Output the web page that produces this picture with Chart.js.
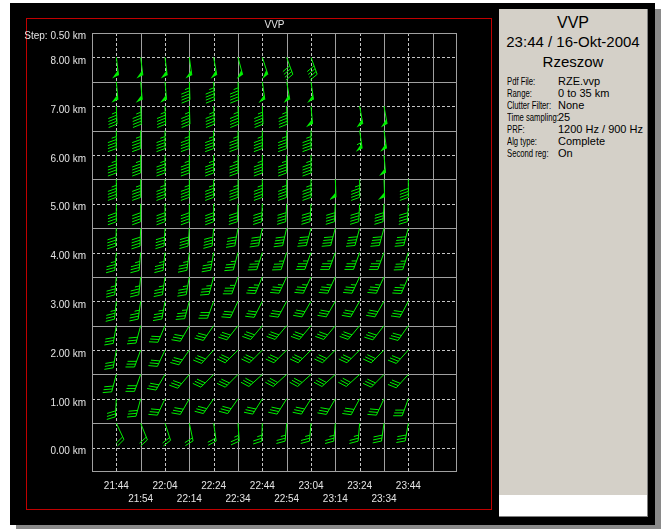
<!DOCTYPE html>
<html>
<head>
<meta charset="utf-8">
<title>VVP</title>
<script src="https://cdn.jsdelivr.net/npm/chart.js@4.4.1/dist/chart.umd.min.js"></script>
<style>
  html, body { margin: 0; padding: 0; background: #fff; }
  #wrap { position: relative; width: 661px; height: 529px; overflow: hidden;
          font-family: "Liberation Sans", Arial, sans-serif; }
  #shadow { position: absolute; left: 16px; top: 9px; width: 645px; height: 520px; background: #8a8a8a; }
  #panel  { position: absolute; left: 10px; top: 3px; width: 645px; height: 522px; background: #000; }
  #frame  { position: absolute; left: 26px; top: 18px; width: 464px; height: 490px; border: 1px solid #c00000; }
  #chart  { position: absolute; left: 0; top: 0; }
  #info   { position: absolute; left: 499px; top: 9px; width: 148px; height: 507px;
            background: #d4d0c8; border-right: 1px solid #808080; border-bottom: 1px solid #808080; }
  #infoFoot { position: absolute; left: 0; top: 486px; width: 148px; height: 21px; background: #fff; }
  .hdr { position: absolute; left: 0; width: 148px; text-align: center; color: #000; white-space: nowrap; }
  .row { position: absolute; left: 8px; width: 140px; font-size: 11px; line-height: 12px; color: #000; white-space: nowrap; }
  .row .k { display: inline-block; transform: scaleX(0.7); transform-origin: 0 50%; }
  .row .v { position: absolute; left: 51px; top: 0; }
</style>
</head>
<body>
<div id="wrap">
  <div id="shadow"></div>
  <div id="panel"></div>
  <div id="frame"></div>
  <canvas id="chart" width="661" height="529"></canvas>
  <div id="info">
    <div class="hdr" style="top:5px;font-size:16px;line-height:18px;">VVP</div>
    <div class="hdr" style="top:24px;font-size:15px;line-height:18px;">23:44 / 16-Okt-2004</div>
    <div class="hdr" style="top:44px;font-size:15px;line-height:18px;">Rzeszow</div>
    <div class="row" style="top:66px;"><span class="k">Pdf File:</span><span class="v">RZE.vvp</span></div>
    <div class="row" style="top:78px;"><span class="k">Range:</span><span class="v">0 to 35 km</span></div>
    <div class="row" style="top:90px;"><span class="k">Clutter Filter:</span><span class="v">None</span></div>
    <div class="row" style="top:102px;"><span class="k">Time sampling:</span><span class="v">25</span></div>
    <div class="row" style="top:114px;"><span class="k">PRF:</span><span class="v">1200 Hz / 900 Hz</span></div>
    <div class="row" style="top:126px;"><span class="k">Alg type:</span><span class="v">Complete</span></div>
    <div class="row" style="top:138px;"><span class="k">Second reg:</span><span class="v">On</span></div>
    <div id="infoFoot"></div>
  </div>
</div>
<script>
// Profile times (10 min apart) and levels (km, every 0.50 km, top to bottom)
const times = ['21:44', '21:54', '22:04', '22:14', '22:24', '22:34', '22:44',
               '22:54', '23:04', '23:14', '23:24', '23:34', '23:44'];
const heights = [8.0, 7.5, 7.0, 6.5, 6.0, 5.5, 5.0, 4.5, 4.0, 3.5, 3.0, 2.5, 2.0, 1.5, 1.0, 0.5];
const heightTicks = [8, 7, 6, 5, 4, 3, 2, 1, 0];

// Bearing (deg, clockwise from north) the barb staff points to; one row per height, null = no estimate
const windDir = [
  [173, 173, 173, 172, 170, 165, 162, 160, 160, null, null, null, null],
  [175, 175, 175, 178, 178, 178, 172, 170, 172, null, null, null, null],
  [178, 178, 178, 178, 178, 178, 178, 178, 175, null, 170, 170, null],
  [180, 180, 180, 180, 180, 180, 180, 180, 180, null, 172, 172, null],
  [180, 180, 180, 180, 180, 180, 180, 180, 180, null, null, 175, null],
  [180, 180, 180, 180, 180, 180, 180, 180, 180, 178, 180, 178, 180],
  [180, 180, 180, 180, 180, 182, 182, 183, 183, 183, 183, 183, 183],
  [182, 182, 183, 184, 185, 190, 192, 193, 195, 195, 195, 195, 195],
  [185, 185, 186, 188, 190, 195, 198, 198, 200, 200, 200, 200, 198],
  [185, 186, 188, 190, 195, 200, 203, 205, 205, 205, 205, 205, 203],
  [186, 188, 190, 195, 200, 205, 207, 208, 210, 210, 210, 210, 208],
  [190, 195, 203, 210, 215, 218, 220, 220, 220, 220, 220, 218, 215],
  [190, 200, 205, 215, 222, 225, 225, 225, 225, 225, 225, 225, 222],
  [195, 200, 210, 220, 225, 225, 228, 228, 228, 228, 228, 225, 222],
  [183, 195, 205, 210, 215, 215, 212, 212, 212, 210, 208, 205, 200],
  [155, 158, 162, 168, 172, 176, 182, 185, 185, 185, 185, 188, 190]
];

// Wind speed (kt) per height and time
const windSpeed = [
  [50, 50, 50, 50, 50, 50, 50, 40, 40, null, null, null, null],
  [50, 50, 50, 45, 45, 45, 50, 50, 50, null, null, null, null],
  [45, 45, 45, 45, 45, 45, 45, 45, 50, null, 50, 50, null],
  [45, 45, 45, 45, 45, 45, 45, 45, 45, null, 55, 50, null],
  [45, 45, 45, 45, 45, 45, 45, 45, 45, null, null, 50, null],
  [45, 45, 45, 45, 45, 45, 45, 45, 45, 50, 45, 50, 40],
  [40, 40, 40, 40, 40, 40, 40, 40, 40, 40, 40, 40, 40],
  [40, 40, 40, 40, 40, 40, 40, 40, 40, 40, 40, 40, 40],
  [35, 35, 35, 35, 35, 35, 35, 35, 35, 35, 35, 35, 35],
  [35, 35, 35, 35, 35, 35, 35, 35, 35, 35, 35, 35, 35],
  [35, 35, 35, 35, 30, 30, 30, 30, 30, 30, 30, 30, 30],
  [30, 30, 30, 30, 30, 30, 30, 30, 30, 30, 30, 30, 30],
  [30, 30, 30, 30, 30, 30, 30, 30, 30, 30, 30, 30, 30],
  [30, 30, 30, 30, 30, 30, 30, 30, 30, 30, 30, 30, 30],
  [30, 30, 30, 30, 30, 30, 30, 30, 30, 30, 30, 30, 30],
  [20, 20, 20, 20, 20, 25, 25, 25, 25, 25, 25, 30, 30]
];

const toMinutes = t => { const [h, m] = t.split(':').map(Number); return h * 60 + m; };
const fmtTime = v => `${Math.floor(v / 60)}:${String(v % 60).padStart(2, '0')}`;
const timeMinutes = times.map(toMinutes);
const FONT = '"Liberation Sans", Arial, sans-serif';
const TEXT = '#e4e4e4';

const points = [];
heights.forEach((h, r) => {
  timeMinutes.forEach((m, c) => {
    if (windSpeed[r][c] == null) return;
    points.push({ x: m, y: h, dir: windDir[r][c], spd: windSpeed[r][c] });
  });
});

// One wind barb: staff from the level point toward the bearing, flags/feathers at the far end
function drawBarb(ctx, x, y, bearing, speed) {
  const a = bearing * Math.PI / 180;
  const dx = Math.sin(a), dy = -Math.cos(a);
  const L = 18, F = 9, S = 3;
  const r = 70 * Math.PI / 180;
  const fx = dx * Math.cos(r) - dy * Math.sin(r);
  const fy = dx * Math.sin(r) + dy * Math.cos(r);
  const tx = x + dx * L, ty = y + dy * L;
  ctx.strokeStyle = '#00f000';
  ctx.fillStyle = '#00f000';
  ctx.lineWidth = 1;
  ctx.beginPath();
  ctx.moveTo(x, y);
  ctx.lineTo(tx, ty);
  ctx.stroke();
  let rest = Math.round(speed / 5) * 5;
  let pos = 0;
  while (rest >= 50) {
    const bx = tx - dx * pos, by = ty - dy * pos;
    ctx.beginPath();
    ctx.moveTo(bx, by);
    ctx.lineTo(bx + fx * F * 0.8, by + fy * F * 0.8);
    ctx.lineTo(bx - dx * 5, by - dy * 5);
    ctx.closePath();
    ctx.fill();
    pos += 6;
    rest -= 50;
  }
  while (rest >= 10) {
    const bx = tx - dx * pos, by = ty - dy * pos;
    ctx.beginPath();
    ctx.moveTo(bx, by);
    ctx.lineTo(bx + fx * F, by + fy * F);
    ctx.stroke();
    pos += S;
    rest -= 10;
  }
  if (rest >= 5) {
    const bx = tx - dx * pos, by = ty - dy * pos;
    ctx.beginPath();
    ctx.moveTo(bx, by);
    ctx.lineTo(bx + fx * F * 0.55, by + fy * F * 0.55);
    ctx.stroke();
  }
}

const gridPlugin = {
  id: 'vvpGrid',
  beforeDatasetsDraw(chart) {
    const { ctx, chartArea: a, scales: { x, y } } = chart;
    ctx.save();
    ctx.lineWidth = 1;
    const line = (x1, y1, x2, y2, dashed) => {
      ctx.setLineDash(dashed ? [3, 2] : []);
      ctx.strokeStyle = dashed ? '#c4c4c4' : '#a0a0a0';
      ctx.beginPath();
      ctx.moveTo(x1, y1);
      ctx.lineTo(x2, y2);
      ctx.stroke();
    };
    for (let h = y.min + 0.5; h < y.max - 0.01; h += 0.5) {
      const py = Math.round(y.getPixelForValue(h)) + 0.5;
      line(a.left, py, a.right, py, Math.abs(h - Math.round(h)) < 1e-6);
    }
    for (let m = x.min + 10; m < x.max - 0.01; m += 10) {
      const px = Math.round(x.getPixelForValue(m)) + 0.5;
      line(px, a.top, px, a.bottom, ((m - timeMinutes[0]) / 10) % 2 === 0);
    }
    const l = Math.round(a.left) + 0.5, rr = Math.round(a.right) - 0.5;
    const t = Math.round(a.top) + 0.5, b = Math.round(a.bottom) - 0.5;
    ctx.setLineDash([]);
    ctx.strokeStyle = '#a0a0a0';
    ctx.strokeRect(l, t, rr - l, b - t);
    ctx.restore();
  },
  afterDatasetsDraw(chart) {
    const ctx = chart.ctx;
    ctx.save();
    chart.data.datasets.forEach((ds, di) => {
      const meta = chart.getDatasetMeta(di);
      meta.data.forEach((el, i) => {
        const p = ds.data[i];
        drawBarb(ctx, el.x, el.y, p.dir, p.spd);
      });
    });
    ctx.restore();
  },
  afterDraw(chart) {
    const { ctx, chartArea: a } = chart;
    ctx.save();
    ctx.fillStyle = TEXT;
    ctx.font = `10px ${FONT}`;
    ctx.textBaseline = 'middle';
    ctx.textAlign = 'center';
    ctx.fillText('VVP', (a.left + a.right) / 2, 25);
    ctx.textAlign = 'right';
    ctx.fillText('Step: 0.50 km', a.left - 6, 36);
    ctx.restore();
  }
};

new Chart(document.getElementById('chart'), {
  type: 'scatter',
  data: { datasets: [{ data: points, pointRadius: 0, pointHoverRadius: 0 }] },
  options: {
    responsive: false,
    animation: false,
    events: [],
    layout: { padding: { top: 33, right: 204, left: 0, bottom: 0 } },
    plugins: { legend: { display: false }, tooltip: { enabled: false }, title: { display: false } },
    scales: {
      x: {
        type: 'linear',
        min: timeMinutes[0] - 10,
        max: timeMinutes[timeMinutes.length - 1] + 20,
        afterBuildTicks: s => { s.ticks = timeMinutes.map(v => ({ value: v })); },
        afterFit: s => { s.height = 57; },
        grid: { display: false, drawTicks: false },
        border: { display: false },
        ticks: {
          autoSkip: false, maxRotation: 0, minRotation: 0, padding: 8,
          color: TEXT, font: { family: FONT, size: 10, lineHeight: 1.3 },
          callback: (v, i) => (i % 2 === 0 ? [fmtTime(v), ''] : ['', fmtTime(v)])
        }
      },
      y: {
        type: 'linear',
        min: -0.5,
        max: 8.5,
        afterBuildTicks: s => { s.ticks = heightTicks.map(v => ({ value: v })); },
        afterFit: s => { s.width = 92; },
        grid: { display: false, drawTicks: false },
        border: { display: false },
        ticks: {
          padding: 6, labelOffset: 4,
          color: TEXT, font: { family: FONT, size: 10 },
          callback: v => `${Number(v).toFixed(2)} km`
        }
      }
    }
  },
  plugins: [gridPlugin]
});
</script>
</body>
</html>
